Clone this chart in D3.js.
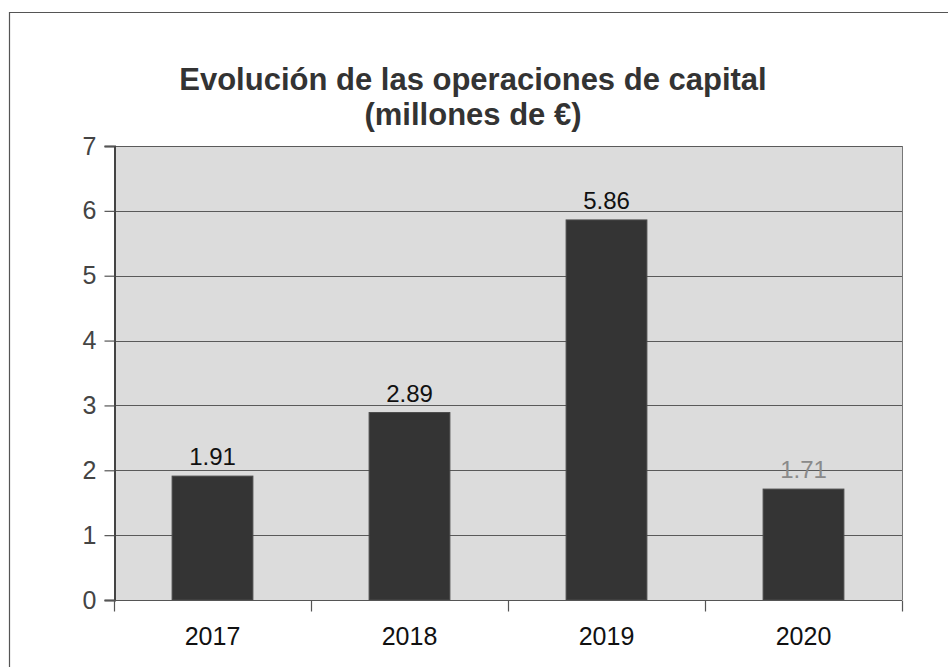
<!DOCTYPE html>
<html>
<head>
<meta charset="utf-8">
<script src="https://cdn.jsdelivr.net/npm/d3@7"></script>
<style>
  html, body { margin: 0; padding: 0; background: #fff; }
  svg { display: block; font-family: "Liberation Sans", Arial, sans-serif; }
</style>
</head>
<body>
<svg id="chart" width="948" height="667"></svg>
<script>
// Capital operations by year, in millions of euros
const years = ["2017", "2018", "2019", "2020"];
const values = [1.91, 2.89, 5.86, 1.71];
const valueLabels = ["1.91", "2.89", "5.86", "1.71"];
const yTicks = [0, 1, 2, 3, 4, 5, 6, 7];
const titleLines = ["Evolución de las operaciones de capital", "(millones de €)"];

const svg = d3.select("#chart");
const plot = { left: 114, right: 902, top: 146, bottom: 600 };

// frame around the chart (top and left edges)
svg.append("path")
  .attr("d", "M9.5,667 L9.5,12.5 L948,12.5")
  .attr("fill", "none").attr("stroke", "#555").attr("stroke-width", 1.2);

const x = d3.scaleBand().domain(years).range([plot.left, plot.right]).paddingInner(0.59).paddingOuter(0.295);
const xEdges = d3.scaleLinear().domain([0, years.length]).range([plot.left, plot.right]);
const y = d3.scaleLinear().domain([0, 7]).range([plot.bottom, plot.top]);

// plot background
svg.append("rect")
  .attr("x", plot.left).attr("y", plot.top)
  .attr("width", plot.right - plot.left).attr("height", plot.bottom - plot.top)
  .attr("fill", "#dcdcdc");

// horizontal gridlines
svg.append("g").selectAll("line").data(yTicks).join("line")
  .attr("x1", plot.left).attr("x2", plot.right)
  .attr("y1", d => Math.round(y(d)) + 0.5).attr("y2", d => Math.round(y(d)) + 0.5)
  .attr("stroke", "#5a5a5a").attr("stroke-width", 1.2);

// right border of the plot area
svg.append("line")
  .attr("x1", plot.right + 0.5).attr("x2", plot.right + 0.5)
  .attr("y1", plot.top).attr("y2", plot.bottom)
  .attr("stroke", "#777").attr("stroke-width", 1);

// bars
svg.append("g").selectAll("rect").data(values).join("rect")
  .attr("x", (d, i) => x(years[i]))
  .attr("y", d => y(d))
  .attr("width", x.bandwidth())
  .attr("height", d => y(0) - y(d))
  .attr("fill", "#343434")
  .attr("stroke", "#4a4a4a").attr("stroke-width", 1);

// value labels
svg.append("g").selectAll("text").data(values).join("text")
  .attr("x", (d, i) => x(years[i]) + x.bandwidth() / 2)
  .attr("y", d => y(d) - 11)
  .attr("text-anchor", "middle")
  .attr("font-size", 24)
  .attr("fill", (d, i) => i === 3 ? "#8a8a8a" : "#111")
  .text((d, i) => valueLabels[i]);

// y axis
const yAxis = svg.append("g")
  .attr("transform", `translate(${plot.left + 0.5},0)`)
  .call(d3.axisLeft(y).tickValues(yTicks).tickFormat(d3.format("d")).tickSize(10).tickPadding(8));
yAxis.select(".domain").attr("stroke", "#444").attr("stroke-width", 2);
yAxis.selectAll(".tick line").attr("stroke", "#555").attr("stroke-width", 1.2);
yAxis.selectAll(".tick text").attr("font-size", 25).attr("fill", "#444")
  .attr("font-family", "Liberation Sans, Arial, sans-serif");

// x axis: tick marks on category boundaries, labels centred in bands
const xAxisG = svg.append("g").attr("transform", `translate(0,${plot.bottom + 0.5})`);
xAxisG.append("line")
  .attr("x1", plot.left).attr("x2", plot.right)
  .attr("stroke", "#555").attr("stroke-width", 1.2);
xAxisG.selectAll("line.edge").data(d3.range(years.length + 1)).join("line")
  .attr("class", "edge")
  .attr("x1", d => Math.round(xEdges(d)) + 0.5).attr("x2", d => Math.round(xEdges(d)) + 0.5)
  .attr("y1", 0).attr("y2", 11)
  .attr("stroke", "#555").attr("stroke-width", 1.2);
xAxisG.selectAll("text").data(years).join("text")
  .attr("x", d => x(d) + x.bandwidth() / 2)
  .attr("y", 44)
  .attr("text-anchor", "middle")
  .attr("font-size", 25)
  .attr("fill", "#111")
  .text(d => d);

// title
svg.append("g").selectAll("text").data(titleLines).join("text")
  .attr("x", 473)
  .attr("y", (d, i) => 90 + i * 35)
  .attr("text-anchor", "middle")
  .attr("font-size", 31)
  .attr("font-weight", "bold")
  .attr("fill", "#333")
  .text(d => d);
</script>
</body>
</html>
